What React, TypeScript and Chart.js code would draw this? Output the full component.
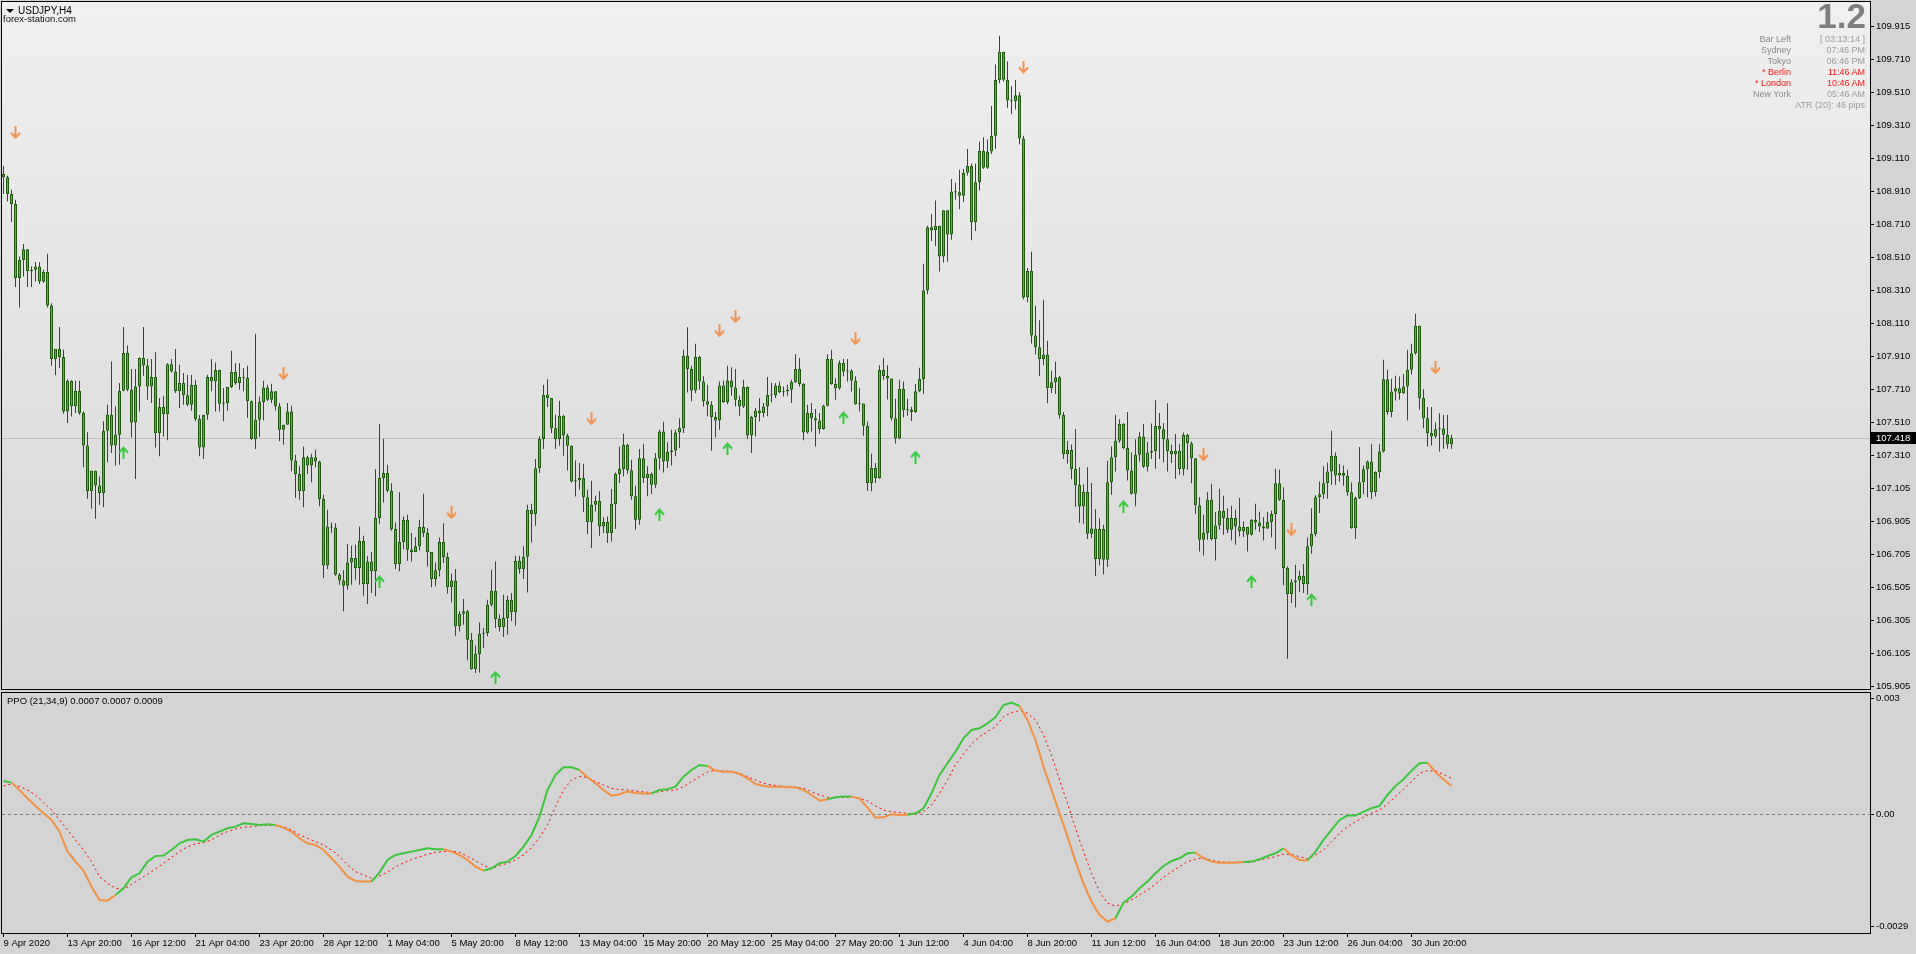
import React, { useEffect, useRef } from "react";
import { Chart, registerables } from "chart.js";

Chart.register(...registerables);

const FONT = '"Liberation Sans", Arial, sans-serif';

// ---------- price data (H4 candles, bar 0 = 9 Apr 2020) ----------
const firstOpen = 109.02;
const closes = [
  109.001,108.899,108.838,108.388,108.498,108.564,108.429,108.439,108.459,108.368,
  108.425,108.222,107.896,107.957,107.908,107.578,107.764,107.609,107.702,107.568,
  107.371,107.092,107.218,107.127,107.082,107.460,107.558,107.371,107.436,107.704,
  107.933,107.710,107.511,107.730,107.902,107.857,107.730,107.787,107.446,107.604,
  107.562,107.865,107.821,107.700,107.750,107.676,107.619,107.740,107.532,107.358,
  107.558,107.787,107.760,107.829,107.625,107.629,107.726,107.817,107.750,107.787,
  107.782,107.639,107.410,107.528,107.635,107.724,107.649,107.700,107.609,107.467,
  107.497,107.578,107.279,107.198,107.092,107.300,107.250,107.300,107.274,107.045,
  106.642,106.879,106.873,106.585,106.551,106.519,106.660,106.687,106.626,106.790,
  106.529,106.666,106.606,106.930,107.173,107.203,107.096,106.863,106.650,106.784,
  106.920,106.737,106.723,106.758,106.875,106.839,106.723,106.559,106.612,106.784,
  106.693,106.510,106.551,106.272,106.349,106.363,106.191,106.012,106.103,106.227,
  106.231,106.403,106.488,106.316,106.268,106.322,106.434,106.359,106.670,106.620,
  106.695,106.980,106.954,107.233,107.410,107.679,107.659,107.476,107.410,107.551,
  107.432,107.369,107.152,107.160,107.173,107.057,106.905,107.011,107.035,106.879,
  106.906,106.839,107.015,107.197,107.228,107.375,107.220,107.062,106.920,107.294,
  107.173,107.199,107.132,107.294,107.456,107.274,107.331,107.340,107.450,107.477,
  107.916,107.835,107.705,107.908,107.760,107.639,107.618,107.544,107.523,107.736,
  107.633,107.766,107.724,107.649,107.608,107.726,107.432,107.544,107.584,107.568,
  107.608,107.677,107.675,107.736,107.695,107.701,107.710,107.756,107.835,107.744,
  107.450,107.568,107.537,107.523,107.471,107.612,107.896,107.744,107.718,107.872,
  107.821,107.825,107.766,107.622,107.626,107.491,107.143,107.234,107.173,107.830,
  107.793,107.778,107.537,107.414,107.716,107.585,107.589,107.574,107.701,107.775,
  108.312,108.697,108.680,108.706,108.520,108.800,108.653,108.914,108.910,108.888,
  109.029,109.069,108.728,108.970,109.161,109.058,109.157,109.253,109.592,109.763,
  109.594,109.467,109.463,109.500,109.237,108.270,108.432,108.040,107.968,107.896,
  107.924,107.720,107.755,107.786,107.556,107.318,107.344,107.228,107.131,107.000,
  107.088,106.834,106.867,106.681,106.863,106.676,107.147,107.300,107.399,107.501,
  107.355,107.219,107.077,107.315,107.425,107.241,107.329,107.337,107.490,107.469,
  107.409,107.337,107.318,107.339,107.228,107.436,107.385,107.294,107.007,106.798,
  106.839,107.041,106.802,106.885,106.974,106.930,106.859,106.930,106.879,106.849,
  106.875,106.828,106.920,106.903,106.879,106.867,106.906,106.954,107.142,107.041,
  106.626,106.468,106.539,106.551,106.579,106.529,106.758,106.833,107.057,107.075,
  107.142,107.213,107.308,107.189,107.203,107.187,107.086,106.869,107.051,107.148,
  107.227,107.274,107.088,107.209,107.335,107.774,107.574,107.699,107.719,107.689,
  107.730,107.831,107.932,108.098,107.659,107.537,107.446,107.426,107.470,107.474,
  107.436,107.379,107.418,
];
const highs = [
  109.070,109.010,108.925,108.864,108.520,108.596,108.564,108.459,108.486,108.484,
  108.439,108.536,108.236,107.957,108.091,107.953,107.774,107.768,107.764,107.764,
  107.578,107.452,107.218,107.218,107.183,107.518,107.619,107.882,107.609,107.750,
  108.091,107.979,107.835,107.835,107.906,108.091,107.896,107.896,107.938,107.659,
  107.673,107.871,107.896,107.957,107.861,107.811,107.801,107.801,107.770,107.556,
  107.558,107.801,107.896,107.875,107.831,107.720,107.726,107.946,107.871,107.871,
  107.841,107.855,107.645,108.050,107.669,107.764,107.740,107.746,107.700,107.629,
  107.497,107.629,107.613,107.315,107.244,107.365,107.308,107.320,107.345,107.278,
  107.071,106.980,106.903,106.899,106.596,106.612,106.772,106.762,106.768,106.879,
  106.822,106.697,106.723,107.227,107.501,107.410,107.254,107.142,106.903,107.086,
  106.940,106.950,106.839,106.814,106.920,107.077,106.869,106.721,106.660,106.812,
  106.899,106.721,106.592,106.620,106.363,106.438,106.373,106.231,106.156,106.296,
  106.261,106.434,106.616,106.666,106.343,106.464,106.458,106.474,106.701,106.701,
  106.758,107.011,107.017,107.288,107.426,107.740,107.774,107.638,107.557,107.642,
  107.557,107.442,107.371,107.280,107.264,107.260,107.102,107.157,107.066,107.092,
  106.934,106.940,107.106,107.207,107.365,107.442,107.381,107.284,107.126,107.349,
  107.381,107.244,107.207,107.325,107.466,107.515,107.390,107.466,107.466,107.537,
  107.952,108.090,107.855,107.989,107.916,107.791,107.740,107.639,107.574,107.760,
  107.766,107.855,107.847,107.835,107.673,107.770,107.730,107.552,107.598,107.659,
  107.629,107.787,107.754,107.750,107.760,107.730,107.740,107.770,107.926,107.902,
  107.750,107.618,107.629,107.592,107.568,107.618,107.926,107.952,107.780,107.888,
  107.898,107.896,107.835,107.791,107.718,107.572,107.517,107.321,107.264,107.858,
  107.902,107.858,107.778,107.655,107.771,107.760,107.655,107.607,107.745,107.843,
  108.476,108.706,108.778,108.859,108.706,108.800,108.800,108.990,108.968,109.047,
  109.051,109.172,109.084,109.084,109.216,109.244,109.231,109.434,109.686,109.861,
  109.763,109.704,109.555,109.592,109.518,109.253,108.450,108.548,108.220,108.132,
  108.257,108.007,107.825,107.880,107.793,107.574,107.399,107.377,107.471,107.239,
  107.136,107.239,107.143,106.983,106.928,106.889,107.278,107.366,107.558,107.530,
  107.508,107.574,107.329,107.409,107.453,107.501,107.392,107.504,107.646,107.569,
  107.508,107.628,107.375,107.440,107.381,107.450,107.442,107.395,107.294,107.057,
  106.950,107.086,107.138,106.966,107.108,107.065,106.990,107.005,106.980,107.051,
  106.909,106.839,106.924,107.017,106.968,106.936,106.968,106.976,107.229,107.223,
  107.116,106.636,106.559,106.646,106.610,106.650,106.812,106.990,107.069,107.152,
  107.244,107.268,107.460,107.329,107.258,107.250,107.223,107.146,107.061,107.361,
  107.250,107.280,107.379,107.213,107.379,107.892,107.831,107.776,107.794,107.790,
  107.806,107.952,107.989,108.171,108.098,107.713,107.604,107.604,107.511,107.567,
  107.557,107.557,107.436,
];
const lows = [
  108.899,108.854,108.729,108.334,108.210,108.398,108.334,108.334,108.368,108.352,
  108.358,108.210,107.855,107.797,107.841,107.564,107.507,107.547,107.568,107.558,
  107.238,107.047,106.987,106.926,107.011,106.997,107.269,107.325,107.248,107.254,
  107.700,107.700,107.420,107.167,107.578,107.795,107.649,107.629,107.358,107.305,
  107.426,107.402,107.815,107.690,107.598,107.619,107.609,107.582,107.518,107.305,
  107.289,107.528,107.700,107.578,107.578,107.518,107.582,107.720,107.740,107.710,
  107.700,107.538,107.406,107.350,107.422,107.522,107.639,107.629,107.584,107.396,
  107.376,107.497,107.214,107.051,107.041,106.996,107.197,107.147,107.238,107.001,
  106.565,106.620,106.839,106.579,106.525,106.363,106.494,106.525,106.555,106.525,
  106.458,106.407,106.474,106.454,106.895,107.025,107.086,106.853,106.620,106.606,
  106.741,106.670,106.666,106.723,106.733,106.814,106.636,106.510,106.515,106.575,
  106.656,106.470,106.417,106.215,106.241,106.282,106.065,106.008,105.988,105.992,
  106.140,106.211,106.393,106.261,106.241,106.207,106.221,106.302,106.276,106.592,
  106.559,106.478,106.782,106.883,107.203,107.349,107.604,107.446,107.349,107.369,
  107.308,107.219,107.146,107.061,107.102,106.966,106.833,106.748,106.970,106.823,
  106.839,106.778,106.788,106.863,107.143,107.183,107.199,107.041,106.859,106.889,
  107.143,107.062,107.076,107.112,107.224,107.207,107.234,107.250,107.305,107.355,
  107.446,107.693,107.639,107.689,107.710,107.608,107.548,107.339,107.420,107.466,
  107.629,107.622,107.673,107.608,107.552,107.598,107.410,107.325,107.426,107.517,
  107.543,107.548,107.633,107.659,107.689,107.669,107.673,107.629,107.750,107.730,
  107.402,107.442,107.456,107.365,107.442,107.466,107.608,107.740,107.649,107.710,
  107.791,107.760,107.699,107.618,107.578,107.430,107.096,107.092,107.143,107.169,
  107.771,107.650,107.523,107.383,107.409,107.541,107.552,107.519,107.569,107.694,
  107.683,108.290,108.614,108.581,108.428,108.483,108.487,108.621,108.865,108.807,
  108.851,109.012,108.618,108.675,108.920,109.051,109.051,109.143,109.172,109.572,
  109.581,109.424,109.384,109.413,109.200,108.260,108.242,107.990,107.924,107.793,
  107.858,107.628,107.690,107.683,107.534,107.289,107.261,107.165,106.999,106.902,
  106.896,106.802,106.808,106.578,106.643,106.589,106.632,107.071,107.213,107.388,
  107.348,107.158,107.071,107.001,107.274,107.234,107.213,107.289,107.230,107.289,
  107.267,107.213,107.264,107.169,107.193,107.189,107.224,107.142,106.954,106.727,
  106.703,106.798,106.794,106.672,106.859,106.828,106.839,106.794,106.768,106.818,
  106.814,106.727,106.824,106.859,106.845,106.794,106.863,106.812,106.741,107.035,
  106.521,106.075,106.413,106.387,106.480,106.474,106.464,106.713,106.818,106.960,
  107.047,107.047,107.132,107.132,107.152,107.126,107.065,106.865,106.802,107.045,
  107.075,107.057,107.045,107.061,107.173,107.329,107.557,107.543,107.645,107.649,
  107.685,107.523,107.800,107.922,107.588,107.476,107.365,107.371,107.416,107.335,
  107.351,107.351,107.349,
];
const lastPrice = 107.418;

// signal arrows
const downArrowBars = [3, 70, 112, 147, 179, 183, 213, 255, 300, 322, 358];
const downArrowPrices = [109.271, 107.807, 106.962, 107.533, 108.068, 108.153, 108.019, 109.669, 107.314, 106.859, 107.843];
const upArrowBars = [30, 94, 123, 164, 181, 210, 228, 280, 312, 327];
const upArrowPrices = [107.327, 106.543, 105.962, 106.950, 107.351, 107.539, 107.300, 106.999, 106.543, 106.434];

// price axis
const priceTickValues = [105.905,106.1055,106.306,106.5065,106.707,106.9075,107.108,107.3085,107.509,107.7095,107.91,108.1105,108.311,108.5115,108.712,108.9125,109.113,109.3135,109.514,109.7145,109.915];
const priceTickLabels = ["105.905","106.105","106.305","106.505","106.705","106.905","107.105","107.310","107.510","107.710","107.910","108.110","108.310","108.510","108.710","108.910","109.110","109.310","109.510","109.710","109.915"];

// time axis
const dateTickBars = [0,16,32,48,64,80,96,112,128,144,160,176,192,208,224,240,256,272,288,304,320,336,352];
const dateTickLabels = ["9 Apr 2020","13 Apr 20:00","16 Apr 12:00","21 Apr 04:00","23 Apr 20:00","28 Apr 12:00","1 May 04:00","5 May 20:00","8 May 12:00","13 May 04:00","15 May 20:00","20 May 12:00","25 May 04:00","27 May 20:00","1 Jun 12:00","4 Jun 04:00","8 Jun 20:00","11 Jun 12:00","16 Jun 04:00","18 Jun 20:00","23 Jun 12:00","26 Jun 04:00","30 Jun 20:00"];

// PPO (21,34,9), values in units of 1e-4, one value every 2 bars (bars 0,2,...,362)
const ppoStep = 2;
const ppoX1e4 = [
  8.62,8.19,6.29,4.14,2.16,0.26,-1.47,-4.48,-9.65,-12.24,
  -14.57,-18.71,-22.15,-22.33,-20.86,-19.14,-16.29,-15.26,-12.24,-10.78,
  -10.69,-9.22,-7.50,-6.64,-6.47,-7.07,-5.34,-4.48,-3.62,-3.19,
  -2.33,-2.50,-2.76,-2.59,-2.76,-3.45,-4.48,-6.21,-7.50,-7.93,
  -9.22,-11.38,-13.53,-16.12,-17.24,-17.41,-17.41,-15.09,-11.81,-10.52,
  -10.09,-9.65,-9.22,-8.79,-9.05,-9.05,-9.65,-10.52,-11.81,-13.53,
  -14.57,-13.96,-12.67,-12.24,-10.78,-8.36,-5.34,-0.60,6.29,10.17,
  12.15,12.15,11.46,9.57,8.02,6.29,4.83,5.17,5.90,5.50,
  5.35,5.40,6.29,6.47,7.15,9.74,11.46,12.76,12.50,11.29,
  11.03,11.03,10.43,9.31,7.84,7.33,7.15,7.15,6.98,6.98,
  6.29,5.00,3.53,3.88,4.40,4.57,4.57,4.05,1.72,-0.86,
  -0.78,0.00,-0.17,-0.09,0.26,1.55,5.43,10.17,13.19,16.21,
  19.65,21.81,22.24,23.53,25.08,28.27,28.88,28.02,24.39,19.22,
  12.33,6.29,0.26,-5.78,-12.24,-17.84,-22.58,-26.03,-27.76,-26.89,
  -22.84,-21.29,-19.14,-17.41,-15.26,-13.36,-12.07,-11.38,-10.09,-9.91,
  -11.38,-12.24,-12.50,-12.50,-12.50,-12.33,-12.24,-11.64,-10.78,-10.09,
  -8.79,-10.60,-11.81,-11.98,-9.65,-6.64,-4.05,-1.47,-0.34,-0.34,
  0.69,1.55,2.16,5.00,7.33,9.05,11.29,13.19,13.36,10.90,
  9.05,7.30,
];
const signalX1e4 = [
  7.33,7.84,7.15,6.29,5.00,3.02,1.12,-1.47,-4.05,-6.64,
  -9.22,-12.24,-16.12,-17.84,-19.14,-19.40,-18.10,-16.81,-15.52,-14.14,
  -12.67,-11.12,-9.65,-8.36,-7.67,-7.33,-6.64,-5.34,-4.48,-3.79,
  -3.36,-3.19,-2.93,-2.84,-2.93,-3.19,-4.05,-5.34,-6.21,-7.07,
  -7.93,-9.22,-10.95,-13.10,-14.83,-15.69,-16.55,-16.00,-14.90,-13.60,
  -12.60,-11.70,-11.00,-10.30,-9.90,-9.60,-9.50,-9.80,-10.90,-12.00,
  -13.20,-14.10,-13.20,-12.70,-11.80,-10.50,-8.60,-6.00,-2.76,1.98,
  6.29,8.88,9.74,9.57,8.45,7.59,6.72,6.40,6.30,6.00,
  5.80,5.60,5.86,6.12,6.29,7.15,8.45,9.74,10.95,11.40,
  11.20,11.10,10.60,9.74,8.88,8.02,7.59,7.33,7.15,7.05,
  6.72,5.86,5.00,4.40,4.31,4.40,4.40,4.20,3.45,2.16,
  1.12,0.69,0.43,0.26,0.10,0.69,2.41,5.43,8.88,12.76,
  15.60,18.19,20.08,21.38,22.67,25.26,26.29,26.81,26.12,24.39,
  20.52,15.34,8.88,2.84,-3.62,-9.65,-15.26,-20.00,-23.02,-23.71,
  -23.19,-22.15,-20.86,-19.57,-18.02,-16.29,-14.83,-13.53,-12.24,-11.64,
  -11.20,-11.98,-12.24,-12.41,-12.41,-12.30,-12.41,-11.81,-11.38,-10.95,
  -10.26,-10.40,-10.95,-11.55,-10.52,-9.22,-7.07,-4.91,-3.19,-1.90,
  -0.78,0.26,1.12,2.67,4.57,6.47,8.45,10.60,11.29,11.20,
  10.34,9.30,
];
const ppoTickValues = [-0.0029, 0, 0.003];
const ppoTickLabels = ["-0.0029", "0.00", "0.003"];

// info panel texts
const infoRows = [
  { label: "Bar Left", value: "[ 03:13:14 ]", red: false },
  { label: "Sydney", value: "07:46 PM", red: false },
  { label: "Tokyo", value: "06:46 PM", red: false },
  { label: "* Berlin", value: "11:46 AM", red: true },
  { label: "* London", value: "10:46 AM", red: true },
  { label: "New York", value: "05:46 AM", red: false },
];
const atrText = "ATR (20): 46 pips";
const spreadText = "1.2";
const ppoTitle = "PPO (21,34,9) 0.0007 0.0007 0.0009";

// ---------- layout constants ----------
const W = 1916;
const MAIN_H = 691;
const PPO_TOP = 691;
const PPO_H = 263;
const X_MIN = -0.375;
const X_MAX = 466.625;
const WINDOW_BG = "#d4d4d4";
const WICK = "#1d5a0e";
const BULL = "#36c936";
const BEAR = "#e8694a";
const LINE_GREEN = "#3ac83a";
const LINE_ORANGE = "#f5903e";

function makeArrow(up: boolean, color: string): HTMLCanvasElement {
  const c = document.createElement("canvas");
  c.width = 11;
  c.height = 13;
  const g = c.getContext("2d")!;
  g.strokeStyle = color;
  g.lineWidth = 2;
  g.lineCap = "butt";
  g.beginPath();
  if (up) {
    g.moveTo(5.5, 13);
    g.lineTo(5.5, 1.5);
    g.moveTo(1, 6.5);
    g.lineTo(5.5, 1.5);
    g.lineTo(10, 6.5);
  } else {
    g.moveTo(5.5, 0);
    g.lineTo(5.5, 11.5);
    g.moveTo(1, 6.5);
    g.lineTo(5.5, 11.5);
    g.lineTo(10, 6.5);
  }
  g.stroke();
  return c;
}

const noPad = (s: any) => {
  s.paddingTop = 0;
  s.paddingBottom = 0;
  s.paddingLeft = 0;
  s.paddingRight = 0;
};

export default function App() {
  const mainRef = useRef<HTMLCanvasElement>(null);
  const ppoRef = useRef<HTMLCanvasElement>(null);

  useEffect(() => {
    Chart.defaults.font.family = FONT;
    const opens = closes.map((c, i) => (i === 0 ? firstOpen : closes[i - 1]));
    const bodyData = closes.map((c, i) => ({ x: i, y: [opens[i], c] }));
    const wickData = closes.map((c, i) => ({
      x: i,
      y: [Math.min(lows[i], opens[i], c), Math.max(highs[i], opens[i], c)],
    }));
    const bodyColors = closes.map((c, i) => (c >= opens[i] ? BULL : BEAR));

    const downImg = makeArrow(false, "#f4924c");
    const upImg = makeArrow(true, "#33c93a");

    const mainDeco = {
      id: "mainDeco",
      beforeDraw(chart: any) {
        const { ctx, chartArea: a } = chart;
        ctx.save();
        ctx.fillStyle = WINDOW_BG;
        ctx.fillRect(0, 0, chart.width, chart.height);
        const g = ctx.createLinearGradient(0, a.top, 0, a.bottom);
        g.addColorStop(0, "#f0f0f0");
        g.addColorStop(1, "#d6d6d6");
        ctx.fillStyle = g;
        ctx.fillRect(a.left, a.top, a.right - a.left, a.bottom - a.top);
        ctx.restore();
      },
      beforeDatasetsDraw(chart: any) {
        const { ctx, chartArea: a } = chart;
        const y = Math.round(chart.scales.y.getPixelForValue(lastPrice)) + 0.5;
        ctx.save();
        ctx.strokeStyle = "#bdbdbd";
        ctx.lineWidth = 1;
        ctx.beginPath();
        ctx.moveTo(a.left, y);
        ctx.lineTo(a.right, y);
        ctx.stroke();
        ctx.restore();
      },
      afterDraw(chart: any) {
        const { ctx, chartArea: a } = chart;
        ctx.save();
        ctx.strokeStyle = "#000";
        ctx.lineWidth = 1;
        ctx.strokeRect(a.left - 0.5, a.top - 0.5, a.right - a.left + 1, a.bottom - a.top + 1);
        const y = Math.round(chart.scales.y.getPixelForValue(lastPrice));
        ctx.fillStyle = "#000";
        ctx.fillRect(a.right + 1, y - 6, W - a.right - 1, 12);
        ctx.fillStyle = "#fff";
        ctx.font = `9.5px ${FONT}`;
        ctx.textBaseline = "middle";
        ctx.textAlign = "left";
        ctx.fillText(lastPrice.toFixed(3), a.right + 6, y + 0.5);
        ctx.restore();
      },
    };

    const main = new Chart(mainRef.current!, {
      type: "bar",
      data: {
        datasets: [
          {
            type: "line",
            data: downArrowBars.map((b, i) => ({ x: b, y: downArrowPrices[i] })),
            showLine: false,
            pointStyle: downImg as any,
            pointRadius: 6,
            order: 0,
          } as any,
          {
            type: "line",
            data: upArrowBars.map((b, i) => ({ x: b, y: upArrowPrices[i] })),
            showLine: false,
            pointStyle: upImg as any,
            pointRadius: 6,
            order: 0,
          } as any,
          {
            type: "bar",
            data: bodyData as any,
            backgroundColor: bodyColors,
            borderColor: WICK,
            borderWidth: 1,
            borderSkipped: false,
            barThickness: 3,
            minBarLength: 1,
            grouped: false,
            inflateAmount: 0,
            order: 1,
          } as any,
          {
            type: "bar",
            data: wickData as any,
            backgroundColor: WICK,
            borderWidth: 0,
            barThickness: 1,
            grouped: false,
            inflateAmount: 0,
            order: 2,
          } as any,
        ],
      },
      options: {
        animation: false,
        responsive: false,
        maintainAspectRatio: false,
        devicePixelRatio: 1,
        events: [],
        layout: { autoPadding: false, padding: { left: 2, top: 2, right: 0, bottom: 2 } },
        plugins: { legend: { display: false }, tooltip: { enabled: false } },
        scales: {
          x: { type: "linear", min: X_MIN, max: X_MAX, display: false, offset: false },
          y: {
            type: "linear",
            position: "right",
            min: 105.891,
            max: 110.066,
            afterBuildTicks: (s: any) => {
              s.ticks = priceTickValues.map((v) => ({ value: v }));
            },
            afterFit: (s: any) => {
              s.width = 46;
              noPad(s);
            },
            grid: { drawOnChartArea: false, drawTicks: true, tickLength: 4, color: "#000" },
            border: { display: false },
            ticks: {
              autoSkip: false,
              padding: 2,
              color: "#000",
              font: { family: FONT, size: 9.5 },
              callback: (_v: any, i: number) => priceTickLabels[i],
            },
          },
        },
      } as any,
      plugins: [mainDeco],
    });

    const ppoPoints = ppoX1e4.map((v, i) => ({ x: i * ppoStep, y: v / 10000 }));
    const sigPoints = signalX1e4.map((v, i) => ({ x: i * ppoStep, y: v / 10000 }));

    const ppoDeco = {
      id: "ppoDeco",
      beforeDraw(chart: any) {
        const { ctx } = chart;
        ctx.save();
        ctx.fillStyle = WINDOW_BG;
        ctx.fillRect(0, 0, chart.width, chart.height);
        ctx.restore();
      },
      beforeDatasetsDraw(chart: any) {
        const { ctx, chartArea: a } = chart;
        const y = Math.round(chart.scales.y.getPixelForValue(0)) + 0.5;
        ctx.save();
        ctx.strokeStyle = "#7a7a7a";
        ctx.lineWidth = 1;
        ctx.setLineDash([3, 3]);
        ctx.beginPath();
        ctx.moveTo(a.left, y);
        ctx.lineTo(a.right, y);
        ctx.stroke();
        ctx.restore();
      },
      afterDraw(chart: any) {
        const { ctx, chartArea: a } = chart;
        ctx.save();
        ctx.strokeStyle = "#000";
        ctx.lineWidth = 1;
        ctx.strokeRect(a.left - 0.5, a.top - 0.5, a.right - a.left + 1, a.bottom - a.top + 1);
        ctx.restore();
      },
    };

    const ppo = new Chart(ppoRef.current!, {
      type: "line",
      data: {
        datasets: [
          {
            data: ppoPoints,
            borderWidth: 2,
            borderColor: LINE_GREEN,
            pointRadius: 0,
            tension: 0,
            order: 0,
            segment: {
              borderColor: (ctx: any) =>
                ppoX1e4[ctx.p1DataIndex] > signalX1e4[ctx.p1DataIndex] ? LINE_GREEN : LINE_ORANGE,
            },
          },
          {
            data: sigPoints,
            borderWidth: 1,
            borderColor: "#ff0000",
            borderDash: [2, 3],
            pointRadius: 0,
            tension: 0,
            order: 1,
          },
        ],
      },
      options: {
        animation: false,
        responsive: false,
        maintainAspectRatio: false,
        devicePixelRatio: 1,
        events: [],
        layout: { autoPadding: false, padding: { left: 2, top: 2, right: 0, bottom: 0 } },
        plugins: { legend: { display: false }, tooltip: { enabled: false } },
        scales: {
          x: {
            type: "linear",
            min: X_MIN,
            max: X_MAX,
            offset: false,
            afterBuildTicks: (s: any) => {
              s.ticks = dateTickBars.map((v) => ({ value: v }));
            },
            afterFit: (s: any) => {
              s.height = 21;
              noPad(s);
            },
            grid: { drawOnChartArea: false, drawTicks: true, tickLength: 4, color: "#000" },
            border: { display: false },
            ticks: {
              autoSkip: false,
              maxRotation: 0,
              minRotation: 0,
              align: "start",
              padding: 1,
              color: "#000",
              font: { family: FONT, size: 9.5 },
              callback: (_v: any, i: number) => dateTickLabels[i],
            },
          },
          y: {
            type: "linear",
            position: "right",
            min: -0.00307,
            max: 0.003137,
            afterBuildTicks: (s: any) => {
              s.ticks = ppoTickValues.map((v) => ({ value: v }));
            },
            afterFit: (s: any) => {
              s.width = 46;
              noPad(s);
            },
            grid: { drawOnChartArea: false, drawTicks: true, tickLength: 4, color: "#000" },
            border: { display: false },
            ticks: {
              autoSkip: false,
              padding: 2,
              color: "#000",
              font: { family: FONT, size: 9.5 },
              callback: (_v: any, i: number) => ppoTickLabels[i],
            },
          },
        },
      } as any,
      plugins: [ppoDeco],
    });

    return () => {
      main.destroy();
      ppo.destroy();
    };
  }, []);

  const txt = (size: number, color: string, extra: any = {}) => ({
    position: "absolute" as const,
    fontFamily: FONT,
    fontSize: size,
    lineHeight: "12px",
    color,
    whiteSpace: "nowrap" as const,
    ...extra,
  });
  const rowTops = [33, 44, 55, 66, 77, 87.5];

  return (
    <div
      style={{
        position: "absolute",
        left: 0,
        top: 0,
        width: W,
        height: 954,
        background: WINDOW_BG,
        overflow: "hidden",
      }}
    >
      <canvas
        ref={mainRef}
        width={W}
        height={MAIN_H}
        style={{ position: "absolute", left: 0, top: 0, width: W, height: MAIN_H }}
      />
      <canvas
        ref={ppoRef}
        width={W}
        height={PPO_H}
        style={{ position: "absolute", left: 0, top: PPO_TOP, width: W, height: PPO_H }}
      />
      {/* title */}
      <div
        style={{
          position: "absolute",
          left: 6,
          top: 9,
          width: 0,
          height: 0,
          borderLeft: "4px solid transparent",
          borderRight: "4px solid transparent",
          borderTop: "4px solid #000",
        }}
      />
      <div style={txt(10, "#000", { left: 18, top: 5 })}>USDJPY,H4</div>
      <div style={txt(9.5, "#111", { left: 3, top: 12.5 })}>forex-station.com</div>
      {/* info panel */}
      <div
        style={{
          position: "absolute",
          right: W - 1866,
          top: -1.6,
          fontFamily: FONT,
          fontWeight: "bold",
          fontSize: 35,
          lineHeight: "35px",
          color: "#7f7f7f",
        }}
      >
        {spreadText}
      </div>
      {infoRows.map((r, i) => (
        <React.Fragment key={r.label}>
          <div style={txt(9, r.red ? "#ff1414" : "#8a8a8a", { right: W - 1791, top: rowTops[i] })}>{r.label}</div>
          <div style={txt(9, r.red ? "#ff1414" : "#9a9a9a", { right: W - 1865, top: rowTops[i] })}>{r.value}</div>
        </React.Fragment>
      ))}
      <div style={txt(9, "#9a9a9a", { right: W - 1865, top: 99 })}>{atrText}</div>
      {/* PPO title */}
      <div style={txt(9.5, "#000", { left: 7, top: 694.5 })}>{ppoTitle}</div>
    </div>
  );
}
